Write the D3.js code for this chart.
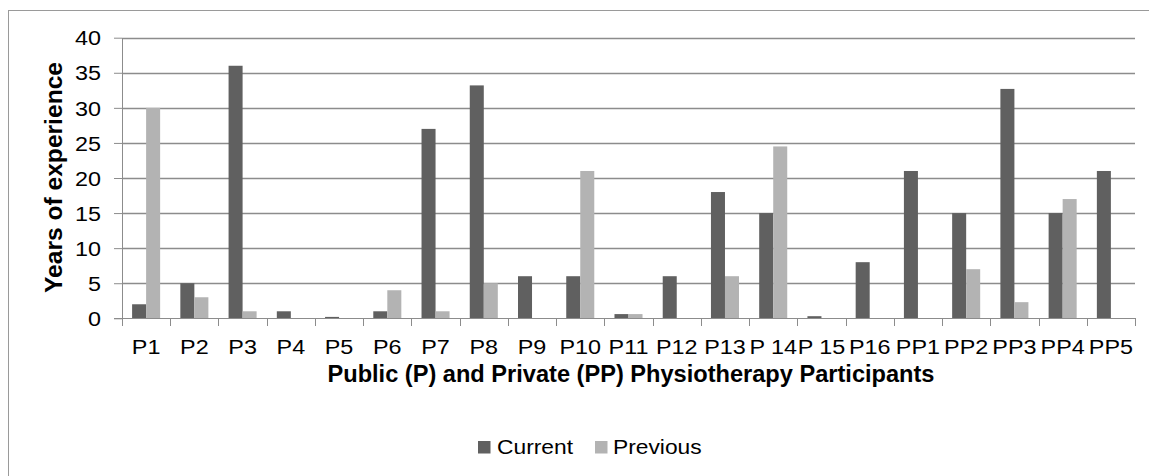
<!DOCTYPE html>
<html>
<head>
<meta charset="utf-8">
<script src="https://cdn.jsdelivr.net/npm/d3@7"></script>
<style>
  html, body { margin: 0; padding: 0; background: #fff; }
  svg { display: block; font-family: "Liberation Sans", Arial, sans-serif; }
</style>
</head>
<body>
<svg id="chart" width="1149" height="476"></svg>
<script>
const categories = ["P1","P2","P3","P4","P5","P6","P7","P8","P9","P10","P11","P12","P13","P 14","P 15","P16","PP1","PP2","PP3","PP4","PP5"];
const seriesNames = ["Current", "Previous"];
const currentValues  = [2, 5, 36, 1, 0.2, 1, 27, 33.2, 6, 6, 0.6, 6, 18, 15, 0.3, 8, 21, 15, 32.7, 15, 21];
const previousValues = [30, 3, 1, 0, 0, 4, 1, 5, 0, 21, 0.6, 0, 6, 24.5, 0, 0, 0, 7, 2.3, 17, 0];
const yTicks = [0, 5, 10, 15, 20, 25, 30, 35, 40];
const colors = ["#606060", "#b3b3b3"];

(function () {
const svg = d3.select("#chart");
const SX = 1.14; // horizontal stretch of the reference's text

// outer frame (top and left edges visible)
svg.append("line").attr("x1", 8.5).attr("x2", 8.5).attr("y1", 10).attr("y2", 476)
  .attr("stroke", "#9a9a9a").attr("stroke-width", 1);
svg.append("line").attr("x1", 8).attr("x2", 1149).attr("y1", 10.5).attr("y2", 10.5)
  .attr("stroke", "#9a9a9a").attr("stroke-width", 1);

const pLeft = 122, pRight = 1135, pTop = 37.7, pBottom = 318.3;

const x = d3.scaleBand().domain(categories).range([pLeft, pRight]).padding(0);
const xs = d3.scaleBand().domain(seriesNames)
  .range([10.1, x.bandwidth() - 10.1]).padding(0);
const y = d3.scaleLinear().domain([0, 40]).range([pBottom, pTop]);

// gridlines
svg.append("g").selectAll("line").data(yTicks.filter(d => d > 0)).join("line")
  .attr("x1", pLeft).attr("x2", pRight)
  .attr("y1", d => Math.round(y(d)) + 0.5).attr("y2", d => Math.round(y(d)) + 0.5)
  .attr("stroke", "#8c8c8c").attr("stroke-width", 1.3);

// y axis
const yAxis = d3.axisLeft(y).tickValues(yTicks).tickSize(8).tickPadding(14).tickSizeOuter(0);
const gy = svg.append("g").attr("transform", `translate(${pLeft},0)`).call(yAxis);
gy.select(".domain").attr("stroke", "#8c8c8c");
gy.selectAll(".tick line").attr("stroke", "#8c8c8c");
gy.selectAll(".tick text")
  .attr("font-size", 20.5).attr("fill", "#000")
  .attr("font-family", "Liberation Sans, Arial, sans-serif")
  .attr("x", 0).attr("dy", "0.35em")
  .attr("transform", `translate(-21,0) scale(${SX},1)`);

// bars
const data = categories.map((c, i) => ({ cat: c, values: [currentValues[i], previousValues[i]] }));
const groups = svg.append("g").selectAll("g").data(data).join("g")
  .attr("transform", d => `translate(${x(d.cat)},0)`);
groups.selectAll("rect")
  .data(d => d.values.map((v, j) => ({ name: seriesNames[j], value: v, j })))
  .join("rect")
  .attr("x", d => xs(d.name))
  .attr("width", xs.bandwidth())
  .attr("y", d => y(d.value))
  .attr("height", d => y(0) - y(d.value))
  .attr("fill", d => colors[d.j]);

// x axis
const boundaries = categories.map(c => x(c)).concat([pRight]);
const gx = svg.append("g");
gx.append("line").attr("x1", pLeft - 8).attr("x2", pRight)
  .attr("y1", Math.round(pBottom) + 0.5).attr("y2", Math.round(pBottom) + 0.5)
  .attr("stroke", "#8c8c8c");
gx.selectAll("line.tk").data(boundaries).join("line").attr("class", "tk")
  .attr("x1", d => Math.round(d) + 0.5).attr("x2", d => Math.round(d) + 0.5)
  .attr("y1", Math.round(pBottom)).attr("y2", Math.round(pBottom) + 8)
  .attr("stroke", "#8c8c8c");
gx.selectAll("text").data(categories).join("text")
  .attr("transform", d => `translate(${x(d) + x.bandwidth() / 2},353.5) scale(${SX},1)`)
  .attr("text-anchor", "middle")
  .attr("font-size", 20.5)
  .attr("fill", "#000")
  .text(d => d);

// axis titles
svg.append("text")
  .attr("transform", "translate(62,177.5) rotate(-90)")
  .attr("text-anchor", "middle")
  .attr("font-size", 24).attr("font-weight", "bold").attr("fill", "#000")
  .attr("textLength", 231).attr("lengthAdjust", "spacingAndGlyphs")
  .text("Years of experience");
svg.append("text")
  .attr("x", 631).attr("y", 382)
  .attr("text-anchor", "middle")
  .attr("font-size", 23.5).attr("font-weight", "bold").attr("fill", "#000")
  .attr("textLength", 607).attr("lengthAdjust", "spacingAndGlyphs")
  .text("Public (P) and Private (PP) Physiotherapy Participants");

// legend
const legendPos = [{ sx: 478, tx: 497 }, { sx: 595, tx: 613 }];
const lg = svg.append("g").selectAll("g").data(seriesNames).join("g");
lg.append("rect")
  .attr("x", (d, i) => legendPos[i].sx).attr("y", 441)
  .attr("width", 12.5).attr("height", 12.5)
  .attr("fill", (d, i) => colors[i]);
lg.append("text")
  .attr("transform", (d, i) => `translate(${legendPos[i].tx},453.5) scale(${SX},1)`)
  .attr("font-size", 20).attr("fill", "#000")
  .text(d => d);
})();
</script>
</body>
</html>
